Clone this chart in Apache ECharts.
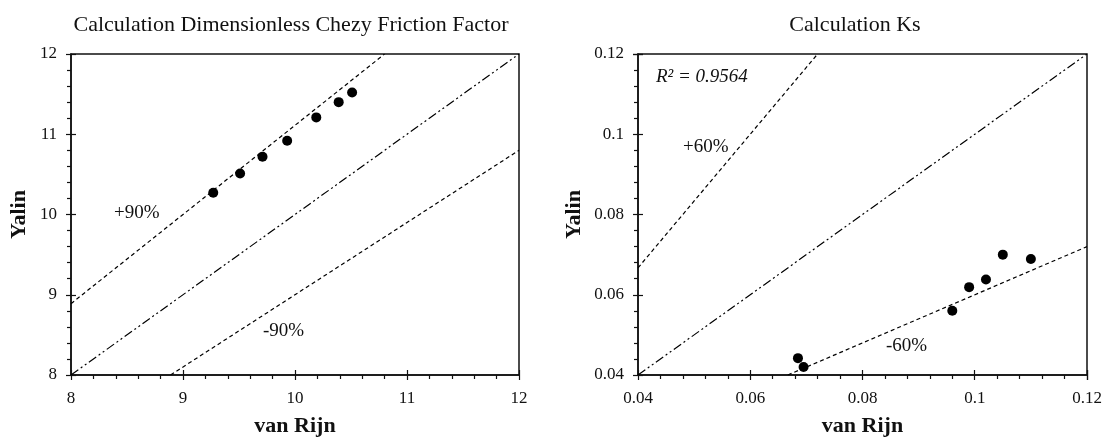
<!DOCTYPE html>
<html>
<head>
<meta charset="utf-8">
<script src="https://cdn.jsdelivr.net/npm/echarts@6/dist/echarts.min.js"></script>
<style>
  html, body { margin: 0; padding: 0; background: #fff; }
  #main { width: 1106px; height: 437px; }
</style>
</head>
<body>
<div id="main"></div>
<script>
// Chezy friction factor: van Rijn (x) vs Yalin (y)
var chezyVanRijn = [9.27, 9.51, 9.71, 9.93, 10.19, 10.39, 10.51];
var chezyYalin = [10.27, 10.51, 10.72, 10.92, 11.21, 11.40, 11.52];
var chezyTicks = [8, 9, 10, 11, 12];

// Ks: van Rijn (x) vs Yalin (y)
var ksVanRijn = [0.0685, 0.0695, 0.096, 0.099, 0.102, 0.105, 0.110];
var ksYalin = [0.0442, 0.0420, 0.056, 0.0619, 0.0638, 0.0700, 0.0689];
var ksTicks = [0.04, 0.06, 0.08, 0.10, 0.12];

// reference lines (end points)
var chezyUpper = [[8, 8.889], [10.8, 12]];
var chezyEqual = [[8, 8], [12, 12]];
var chezyLower = [[8.889, 8], [12, 10.8]];
var ksUpper = [[0.04, 0.0667], [0.072, 0.12]];
var ksEqual = [[0.04, 0.04], [0.12, 0.12]];
var ksLower = [[0.0667, 0.04], [0.12, 0.072]];

var ink = '#111';
var serif = 'Liberation Serif';

function zip(xs, ys) {
    return xs.map(function (x, i) { return [x, ys[i]]; });
}

function mainAxis(grid, ticks, isY, nameGap, fmt) {
    return {
        type: 'value',
        gridIndex: grid,
        position: isY ? 'left' : 'bottom',
        min: ticks[0],
        max: ticks[ticks.length - 1],
        interval: ticks[1] - ticks[0],
        splitNumber: ticks.length - 1,
        name: isY ? 'Yalin' : 'van Rijn',
        nameLocation: 'middle',
        nameGap: nameGap,
        nameRotate: isY ? 90 : 0,
        nameTextStyle: { fontFamily: serif, fontWeight: 'bold', fontSize: 22, color: ink },
        axisLine: { show: true, onZero: false, lineStyle: { color: ink, width: 1.5 } },
        axisTick: { show: true, inside: false, length: 5, lineStyle: { color: ink, width: 1.2 } },
        minorTick: { show: true, splitNumber: 5, length: 4, lineStyle: { color: ink, width: 1.2 } },
        splitLine: { show: false },
        axisLabel: {
            fontFamily: serif, fontSize: 17, color: ink, margin: isY ? 14 : 15,
            formatter: fmt
        }
    };
}

// second copy of each axis draws the inner half of the crossing major ticks
function innerAxis(grid, ticks, isY) {
    return {
        type: 'value',
        gridIndex: grid,
        position: isY ? 'left' : 'bottom',
        min: ticks[0],
        max: ticks[ticks.length - 1],
        interval: ticks[1] - ticks[0],
        axisLine: { show: false, onZero: false },
        axisTick: { show: true, inside: true, length: 5, lineStyle: { color: ink, width: 1.2 } },
        axisLabel: { show: false },
        splitLine: { show: false }
    };
}

function fmtNum(v) {
    return String(Math.round(v * 1000) / 1000);
}

function refLine(name, xi, yi, pts, dash) {
    return {
        name: name,
        type: 'line',
        xAxisIndex: xi,
        yAxisIndex: yi,
        data: pts,
        symbol: 'none',
        silent: true,
        lineStyle: { color: '#000', width: 1.2, type: dash }
    };
}

var dashed = [4, 3];
var dashDotDot = [9, 3, 2, 3, 2, 3];

function dots(xi, yi, pts) {
    return {
        type: 'scatter',
        xAxisIndex: xi,
        yAxisIndex: yi,
        data: pts,
        symbol: 'circle',
        symbolSize: 10,
        itemStyle: { color: '#000', opacity: 1 },
        z: 5
    };
}

function note(text, left, top, italic) {
    return {
        type: 'text',
        left: left,
        top: top,
        style: {
            text: text,
            fill: ink,
            font: (italic ? 'italic ' : '') + '19px "' + serif + '"'
        }
    };
}

var chart = echarts.init(document.getElementById('main'));

var option = {
    backgroundColor: '#fff',
    animation: false,
    title: [
        {
            text: 'Calculation Dimensionless Chezy Friction Factor',
            left: 286, top: 9, textAlign: 'center',
            textStyle: { fontFamily: serif, fontWeight: 'normal', fontSize: 22, color: ink }
        },
        {
            text: 'Calculation Ks',
            left: 850, top: 9, textAlign: 'center',
            textStyle: { fontFamily: serif, fontWeight: 'normal', fontSize: 22, color: ink }
        }
    ],
    grid: [
        { left: 71, top: 54, width: 448, height: 321, show: true, borderColor: ink, borderWidth: 1.5, outerBoundsMode: 'none' },
        { left: 638, top: 54, width: 449, height: 321, show: true, borderColor: ink, borderWidth: 1.5, outerBoundsMode: 'none' }
    ],
    xAxis: [
        mainAxis(0, chezyTicks, false, 40, fmtNum),
        innerAxis(0, chezyTicks, false),
        mainAxis(1, ksTicks, false, 40, fmtNum),
        innerAxis(1, ksTicks, false)
    ],
    yAxis: [
        mainAxis(0, chezyTicks, true, 41, fmtNum),
        innerAxis(0, chezyTicks, true),
        mainAxis(1, ksTicks, true, 53, fmtNum),
        innerAxis(1, ksTicks, true)
    ],
    series: [
        refLine('+90%', 0, 0, chezyUpper, dashed),
        refLine('1:1', 0, 0, chezyEqual, dashDotDot),
        refLine('-90%', 0, 0, chezyLower, dashed),
        dots(0, 0, zip(chezyVanRijn, chezyYalin)),
        refLine('+60%', 2, 2, ksUpper, dashed),
        refLine('1:1', 2, 2, ksEqual, dashDotDot),
        refLine('-60%', 2, 2, ksLower, dashed),
        dots(2, 2, zip(ksVanRijn, ksYalin))
    ],
    graphic: [
        note('+90%', 114, 204, false),
        note('-90%', 263, 322, false),
        note('R\u00b2 = 0.9564', 656, 67, true),
        note('+60%', 683, 138, false),
        note('-60%', 886, 337, false)
    ]
};

chart.setOption(option);
</script>
</body>
</html>
